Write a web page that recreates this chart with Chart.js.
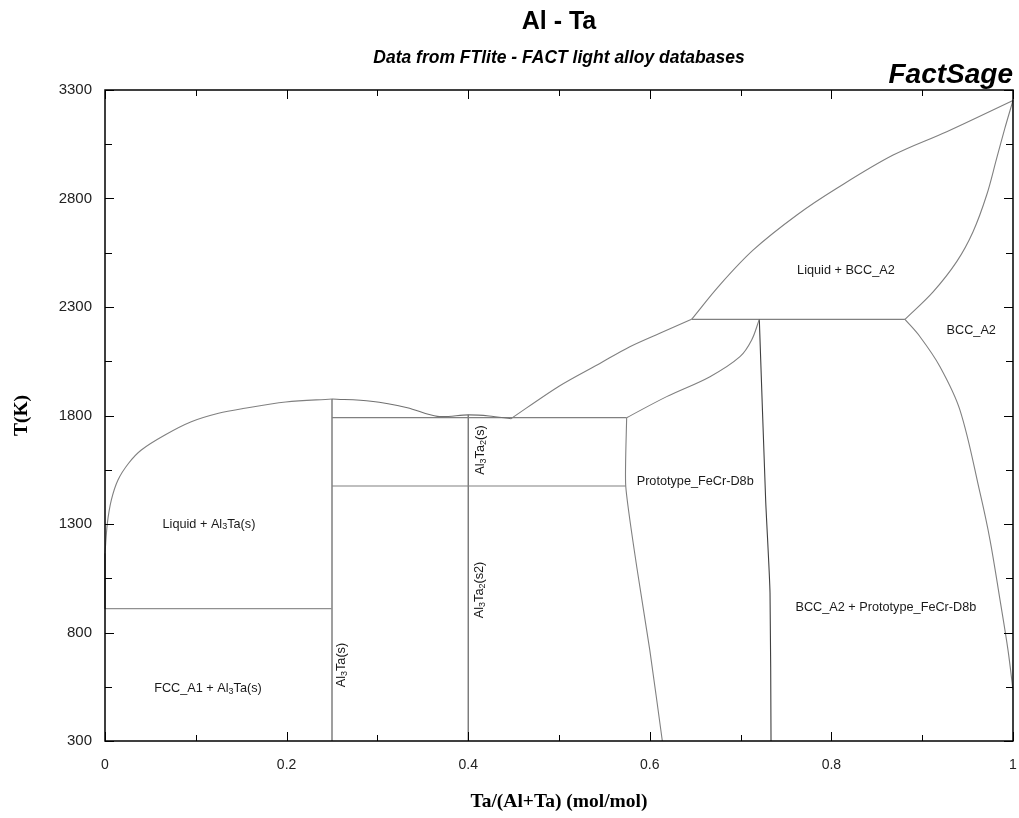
<!DOCTYPE html>
<html>
<head>
<meta charset="utf-8">
<script src="https://cdn.jsdelivr.net/npm/chart.js@4"></script>
<style>
  body { margin: 0; background: #fff; }
</style>
</head>
<body>
<canvas id="chart" width="1019" height="818"></canvas>
<script>
// tick values
const xTicks = [0, 0.1, 0.2, 0.3, 0.4, 0.5, 0.6, 0.7, 0.8, 0.9, 1];
const xLabeled = [0, 0.2, 0.4, 0.6, 0.8, 1];
const yTicks = [300, 550, 800, 1050, 1300, 1550, 1800, 2050, 2300, 2550, 2800, 3050, 3300];
const yLabeled = [300, 800, 1300, 1800, 2300, 2800, 3300];

// phase boundaries, [x Ta/(Al+Ta), T(K)]
const alEdge = [[0, 910], [0, 1165]];
const alLiquidus = [[0, 1165], [0.0026, 1303], [0.007, 1411], [0.0143, 1503], [0.026, 1580],
  [0.04, 1641], [0.066, 1710], [0.095, 1771], [0.125, 1810], [0.152, 1832], [0.199, 1862], [0.25, 1876]];
const midLiquidus = [[0.25, 1876], [0.293, 1866], [0.333, 1836], [0.366, 1796], [0.4, 1803],
  [0.423, 1798], [0.447, 1785]];
const taLiquidus = [[0.447, 1785], [0.5, 1935], [0.545, 2040], [0.578, 2117], [0.611, 2179], [0.646, 2243]];
const liquidusHigh = [[0.646, 2243], [0.677, 2401], [0.714, 2563], [0.762, 2724], [0.806, 2847],
  [0.868, 3000], [0.927, 3108], [1, 3252]];
const bccSolidus = [[0.881, 2243], [0.912, 2370], [0.938, 2509], [0.956, 2647], [0.971, 2816],
  [0.982, 2985], [0.991, 3123], [1, 3252]];
const bccSolvus = [[0.881, 2243], [0.8976, 2163], [0.9196, 2025], [0.9416, 1825], [0.9637, 1443],
  [0.9747, 1226], [0.9857, 950], [0.9945, 719], [1, 535]];
const protoLeft = [[0.5745, 1790], [0.5735, 1475], [0.5856, 1103], [0.6, 719], [0.6138, 300]];
const protoTop = [[0.5745, 1790], [0.6186, 1887], [0.6663, 1979], [0.6993, 2071], [0.7122, 2148], [0.7206, 2243]];
const protoRight = [[0.7206, 2243], [0.7276, 1411], [0.7324, 982], [0.7335, 300]];
const peritectic = [[0.646, 2243], [0.881, 2243]];
const upperLine = [[0.25, 1790], [0.5745, 1790]];
const lowerLine = [[0.25, 1475], [0.5735, 1475]];
const eutectic = [[0, 910], [0.25, 910]];
const al3Ta = [[0.25, 300], [0.25, 1876]];
const al3Ta2 = [[0.4, 300], [0.4, 1803]];

// region labels: [x, T, rotated, parts]  (parts: [text, isSubscript])
const regionLabels = [
  [0.1145, 1300, false, [['Liquid + Al', 0], ['3', 1], ['Ta(s)', 0]]],
  [0.1134, 544, false, [['FCC_A1 + Al', 0], ['3', 1], ['Ta(s)', 0]]],
  [0.26, 650, true, [['Al', 0], ['3', 1], ['Ta(s)', 0]]],
  [0.414, 1641, true, [['Al', 0], ['3', 1], ['Ta', 0], ['2', 1], ['(s)', 0]]],
  [0.412, 996, true, [['Al', 0], ['3', 1], ['Ta', 0], ['2', 1], ['(s2)', 0]]],
  [0.65, 1498, false, [['Prototype_FeCr-D8b', 0]]],
  [0.816, 2470, false, [['Liquid + BCC_A2', 0]]],
  [0.954, 2194, false, [['BCC_A2', 0]]],
  [0.86, 917, false, [['BCC_A2 + Prototype_FeCr-D8b', 0]]]
];

// [points, colour, tension]
const series = [
  [alEdge, '#303030', 0], [alLiquidus, '#808080', 0.35], [midLiquidus, '#707070', 0.3],
  [taLiquidus, '#808080', 0.3], [liquidusHigh, '#808080', 0.35],
  [bccSolidus, '#808080', 0.35], [bccSolvus, '#808080', 0.35], [protoLeft, '#808080', 0.2],
  [protoTop, '#808080', 0.35], [protoRight, '#404040', 0.2], [peritectic, '#808080', 0],
  [upperLine, '#808080', 0], [lowerLine, '#808080', 0], [eutectic, '#909090', 0],
  [al3Ta, '#505050', 0], [al3Ta2, '#505050', 0]
];

const SANS = '"Liberation Sans", Arial, sans-serif';
const SERIF = '"Liberation Serif", "Times New Roman", serif';

function richText(ctx, parts, x, y) {
  const big = '12.7px ' + SANS, small = '9px ' + SANS;
  let w = 0;
  parts.forEach(([t, s]) => { ctx.font = s ? small : big; w += ctx.measureText(t).width; });
  let cx = x - w / 2;
  parts.forEach(([t, s]) => {
    ctx.font = s ? small : big;
    ctx.fillText(t, cx, s ? y + 3 : y);
    cx += ctx.measureText(t).width;
  });
}

const decor = {
  id: 'decor',
  afterDraw(chart) {
    const { ctx, chartArea: a, scales: { x, y } } = chart;
    ctx.save();
    ctx.strokeStyle = '#000';
    ctx.lineWidth = 1;
    ctx.beginPath();
    x.ticks.forEach(t => {
      const px = Math.round(x.getPixelForValue(t.value)) + 0.5;
      const len = t.label ? 9 : 6;
      ctx.moveTo(px, a.bottom); ctx.lineTo(px, a.bottom - len);
      ctx.moveTo(px, a.top); ctx.lineTo(px, a.top + len);
    });
    y.ticks.forEach(t => {
      const py = Math.round(y.getPixelForValue(t.value)) + 0.5;
      const len = t.label ? 9 : 7;
      ctx.moveTo(a.left, py); ctx.lineTo(a.left + len, py);
      ctx.moveTo(a.right, py); ctx.lineTo(a.right - len, py);
    });
    ctx.stroke();
    ctx.lineWidth = 1.5;
    ctx.strokeRect(a.left, a.top, a.right - a.left, a.bottom - a.top);

    // region labels
    ctx.fillStyle = '#1a1a1a';
    ctx.textBaseline = 'middle';
    ctx.textAlign = 'left';
    regionLabels.forEach(([lx, lt, rot, parts]) => {
      const px = x.getPixelForValue(lx), py = y.getPixelForValue(lt);
      if (rot) {
        ctx.save();
        ctx.translate(px, py);
        ctx.rotate(-Math.PI / 2);
        richText(ctx, parts, 0, 0);
        ctx.restore();
      } else {
        richText(ctx, parts, px, py);
      }
    });

    // titles
    const cx = (a.left + a.right) / 2;
    ctx.fillStyle = '#000';
    ctx.textAlign = 'center';
    ctx.textBaseline = 'alphabetic';
    ctx.font = 'bold 25px ' + SANS;
    ctx.fillText('Al - Ta', cx, 29);
    ctx.font = 'italic bold 17.5px ' + SANS;
    ctx.fillText('Data from FTlite - FACT light alloy databases', cx, 63);
    ctx.textAlign = 'right';
    ctx.font = 'italic bold 28px ' + SANS;
    ctx.fillText('FactSage', a.right, 83);
    ctx.restore();
  }
};

new Chart(document.getElementById('chart').getContext('2d'), {
  type: 'scatter',
  data: {
    datasets: series.map(([pts, color, tension]) => ({
      data: pts.map(([px, pt]) => ({ x: px, y: pt })),
      showLine: true,
      borderColor: color,
      borderWidth: 1.1,
      pointRadius: 0,
      tension: tension,
      clip: false
    }))
  },
  options: {
    responsive: false,
    animation: false,
    layout: { padding: { top: 90, right: 6, left: 0, bottom: 0 } },
    plugins: {
      legend: { display: false },
      tooltip: { enabled: false }
    },
    scales: {
      x: {
        type: 'linear', min: 0, max: 1,
        afterBuildTicks: s => { s.ticks = xTicks.map(v => ({ value: v })); },
        afterFit: s => { s.height = 77; s.paddingLeft = 0; s.paddingRight = 0; },
        grid: { display: true, drawOnChartArea: false, drawTicks: false },
        border: { display: false },
        ticks: {
          padding: 16, color: '#222',
          font: { family: SANS, size: 14 },
          callback: v => xLabeled.some(m => Math.abs(m - v) < 1e-9) ? String(+v.toFixed(1)) : ''
        },
        title: {
          display: true, text: 'Ta/(Al+Ta) (mol/mol)', color: '#000',
          font: { family: SERIF, size: 19.5, weight: 'bold' },
          padding: { top: 0, bottom: 4 }
        }
      },
      y: {
        type: 'linear', min: 300, max: 3300,
        afterBuildTicks: s => { s.ticks = yTicks.map(v => ({ value: v })); },
        afterFit: s => { s.width = 105; s.paddingTop = 0; s.paddingBottom = 0; },
        grid: { display: true, drawOnChartArea: false, drawTicks: false },
        border: { display: false },
        ticks: {
          padding: 13, color: '#222',
          font: { family: SANS, size: 15 },
          callback: v => yLabeled.includes(v) ? String(v) : ''
        },
        title: {
          display: true, text: 'T(K)', color: '#000',
          font: { family: SERIF, size: 19.5, weight: 'bold' },
          padding: { top: 10, bottom: 0 }
        }
      }
    }
  },
  plugins: [decor]
});
</script>
</body>
</html>
